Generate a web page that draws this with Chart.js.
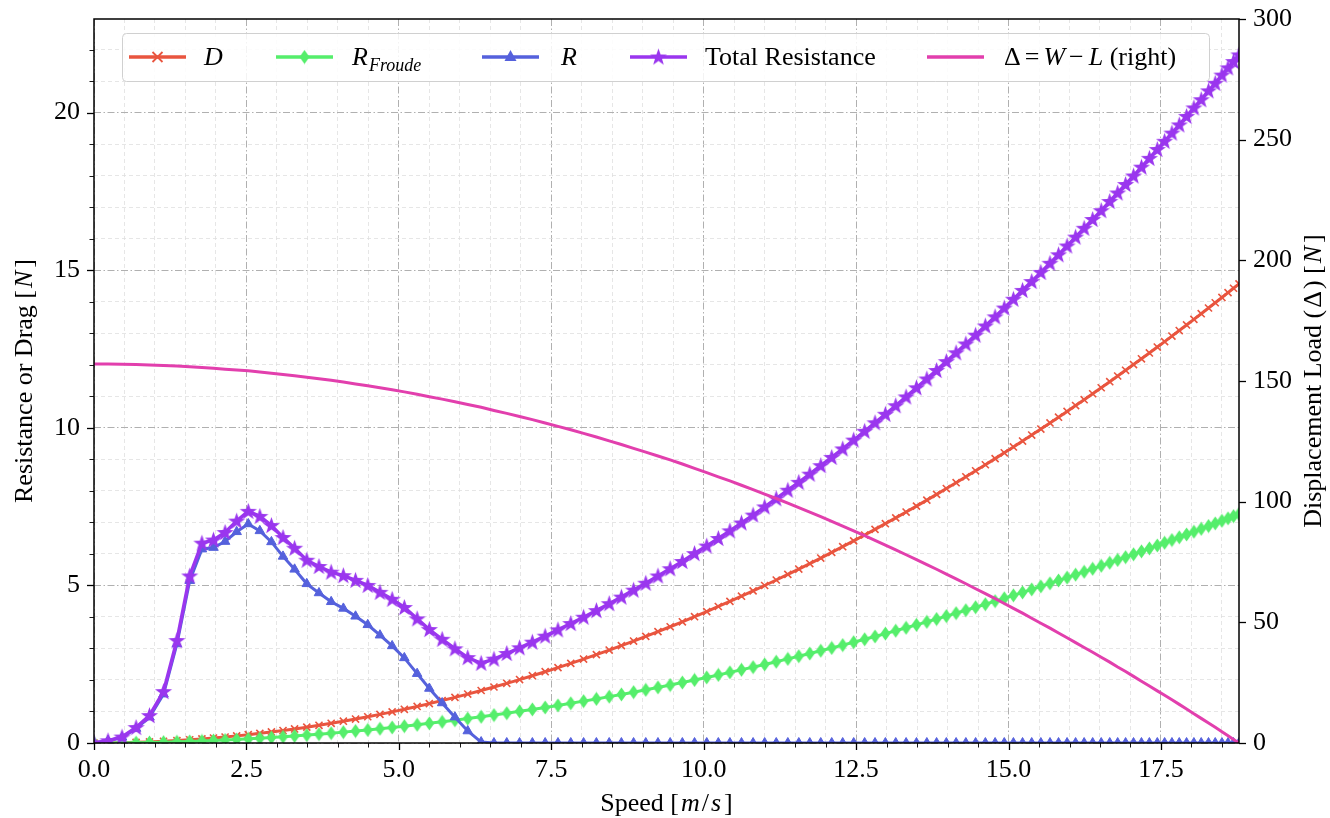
<!DOCTYPE html>
<html>
<head>
<meta charset="utf-8">
<script src="https://cdn.jsdelivr.net/npm/chart.js@4.4.1/dist/chart.umd.min.js"></script>
<style>
  html, body { margin: 0; padding: 0; background: #fff; }
  canvas { display: block; }
</style>
</head>
<body>
<canvas id="resistanceChart" width="1330" height="818"></canvas>
<script>
// speed [m/s] of every sample
var speed = [
  0.00, 0.23, 0.46, 0.69, 0.91, 1.14, 1.36, 1.57, 1.77, 1.96,
  2.15, 2.34, 2.53, 2.72, 2.91, 3.10, 3.29, 3.49, 3.69, 3.89,
  4.09, 4.29, 4.49, 4.69, 4.89, 5.09, 5.30, 5.50, 5.71, 5.92,
  6.13, 6.35, 6.56, 6.77, 6.98, 7.19, 7.40, 7.61, 7.82, 8.03,
  8.24, 8.45, 8.65, 8.85, 9.05, 9.25, 9.45, 9.65, 9.85, 10.05,
  10.24, 10.43, 10.62, 10.81, 11.00, 11.19, 11.38, 11.56, 11.74, 11.92,
  12.10, 12.28, 12.46, 12.64, 12.81, 12.98, 13.15, 13.32, 13.49, 13.66,
  13.82, 13.98, 14.14, 14.30, 14.46, 14.62, 14.78, 14.93, 15.08, 15.23,
  15.38, 15.53, 15.68, 15.82, 15.96, 16.10, 16.24, 16.38, 16.52, 16.66,
  16.79, 16.92, 17.05, 17.18, 17.31, 17.44, 17.56, 17.68, 17.80, 17.92,
  18.04, 18.16, 18.28, 18.39, 18.50, 18.60, 18.69, 18.78
];

// D
var drag = [
  0, 0.002, 0.009, 0.02, 0.034, 0.054, 0.076, 0.102, 0.129, 0.159,
  0.191, 0.226, 0.264, 0.306, 0.35, 0.397, 0.447, 0.503, 0.562, 0.625,
  0.691, 0.76, 0.833, 0.908, 0.988, 1.07, 1.16, 1.249, 1.347, 1.447,
  1.552, 1.665, 1.777, 1.893, 2.012, 2.135, 2.262, 2.392, 2.526, 2.663,
  2.804, 2.949, 3.09, 3.235, 3.383, 3.534, 3.688, 3.846, 4.007, 4.171,
  4.331, 4.493, 4.658, 4.826, 4.997, 5.171, 5.349, 5.519, 5.692, 5.868,
  6.047, 6.228, 6.412, 6.599, 6.777, 6.958, 7.142, 7.328, 7.516, 7.706,
  7.888, 8.072, 8.258, 8.445, 8.636, 8.828, 9.022, 9.206, 9.392, 9.58,
  9.769, 9.961, 10.154, 10.336, 10.52, 10.705, 10.892, 11.081, 11.271, 11.463,
  11.643, 11.824, 12.006, 12.19, 12.375, 12.562, 12.735, 12.91, 13.086, 13.263,
  13.441, 13.62, 13.801, 13.967, 14.135, 14.288, 14.427, 14.566
];

// R_Froude
var froude = [
  0, 0.001, 0.004, 0.01, 0.017, 0.027, 0.038, 0.051, 0.065, 0.079,
  0.095, 0.113, 0.132, 0.152, 0.174, 0.198, 0.223, 0.251, 0.28, 0.312,
  0.345, 0.379, 0.415, 0.453, 0.493, 0.534, 0.579, 0.623, 0.672, 0.722,
  0.774, 0.831, 0.886, 0.944, 1.004, 1.065, 1.128, 1.193, 1.26, 1.328,
  1.399, 1.471, 1.541, 1.613, 1.687, 1.763, 1.84, 1.918, 1.999, 2.081,
  2.16, 2.241, 2.323, 2.407, 2.493, 2.579, 2.668, 2.753, 2.839, 2.927,
  3.016, 3.106, 3.198, 3.291, 3.38, 3.471, 3.562, 3.655, 3.749, 3.844,
  3.934, 4.026, 4.119, 4.212, 4.307, 4.403, 4.5, 4.592, 4.685, 4.778,
  4.873, 4.968, 5.065, 5.156, 5.247, 5.34, 5.433, 5.527, 5.622, 5.718,
  5.807, 5.897, 5.988, 6.08, 6.173, 6.266, 6.352, 6.439, 6.527, 6.615,
  6.704, 6.794, 6.884, 6.967, 7.05, 7.127, 7.196, 7.265
];

// R
var wave = [
  0, 0.07, 0.18, 0.46, 0.82, 1.55, 3.14, 5.15, 6.15, 6.2,
  6.39, 6.7, 6.95, 6.73, 6.38, 5.92, 5.51, 5.05, 4.76, 4.48,
  4.27, 4.02, 3.75, 3.42, 3.08, 2.7, 2.2, 1.73, 1.27, 0.82,
  0.38, 0.03, 0, 0, 0, 0, 0, 0, 0, 0,
  0, 0, 0, 0, 0, 0, 0, 0, 0, 0,
  0, 0, 0, 0, 0, 0, 0, 0, 0, 0,
  0, 0, 0, 0, 0, 0, 0, 0, 0, 0,
  0, 0, 0, 0, 0, 0, 0, 0, 0, 0,
  0, 0, 0, 0, 0, 0, 0, 0, 0, 0,
  0, 0, 0, 0, 0, 0, 0, 0, 0, 0,
  0, 0, 0, 0, 0, 0, 0, 0
];

// Total Resistance
var total = [
  0, 0.07, 0.19, 0.49, 0.87, 1.63, 3.25, 5.3, 6.34, 6.44,
  6.68, 7.04, 7.35, 7.19, 6.9, 6.52, 6.18, 5.8, 5.6, 5.42,
  5.31, 5.16, 5, 4.78, 4.56, 4.3, 3.94, 3.6, 3.29, 2.99,
  2.71, 2.53, 2.66, 2.84, 3.02, 3.2, 3.39, 3.59, 3.79, 3.99,
  4.2, 4.42, 4.63, 4.85, 5.07, 5.3, 5.53, 5.76, 6.01, 6.25,
  6.49, 6.73, 6.98, 7.23, 7.49, 7.75, 8.02, 8.27, 8.53, 8.8,
  9.06, 9.33, 9.61, 9.89, 10.16, 10.43, 10.7, 10.98, 11.27, 11.55,
  11.82, 12.1, 12.38, 12.66, 12.94, 13.23, 13.52, 13.8, 14.08, 14.36,
  14.64, 14.93, 15.22, 15.49, 15.77, 16.05, 16.33, 16.61, 16.89, 17.18,
  17.45, 17.72, 17.99, 18.27, 18.55, 18.83, 19.09, 19.35, 19.61, 19.88,
  20.15, 20.41, 20.69, 20.93, 21.19, 21.42, 21.62, 21.83
];

// Δ = W - L, right axis
var displacement = [
  157, 157, 156.9, 156.8, 156.6, 156.4, 156.2, 155.9, 155.6, 155.3,
  154.9, 154.6, 154.2, 153.7, 153.2, 152.7, 152.2, 151.6, 150.9, 150.3,
  149.6, 148.8, 148, 147.2, 146.4, 145.5, 144.5, 143.5, 142.5, 141.4,
  140.3, 139.1, 137.8, 136.6, 135.3, 134, 132.6, 131.2, 129.8, 128.3,
  126.8, 125.2, 123.7, 122.1, 120.5, 118.9, 117.3, 115.6, 113.8, 112,
  110.3, 108.6, 106.8, 105, 103.1, 101.3, 99.4, 97.5, 95.7, 93.8,
  91.8, 89.9, 87.9, 85.9, 84, 82, 80, 78, 76, 73.9,
  72, 70, 68, 66, 63.9, 61.9, 59.8, 57.8, 55.8, 53.8,
  51.7, 49.6, 47.6, 45.6, 43.6, 41.6, 39.6, 37.6, 35.5, 33.5,
  31.5, 29.6, 27.6, 25.6, 23.6, 21.6, 19.8, 17.9, 16, 14.1,
  12.1, 10.2, 8.3, 6.5, 4.7, 3, 1.5, 0
];

var xMax = 18.78;
var yMax = 22.97;
var y2Max = 300;

var RED = '#e9553f';
var GREEN = '#55ee6b';
var BLUE = '#5561dc';
var PURPLE = '#9a36ee';
var MAGENTA = '#e23fad';
var MAJOR_GRID = '#b0b0b0';
var MINOR_GRID = '#e0e0e0';

var SERIF = '"Liberation Serif", "DejaVu Serif", serif';
var fNorm = '26px ' + SERIF;
var fItal = 'italic 26px ' + SERIF;
var fSub = 'italic 18px ' + SERIF;

function pts(xs, ys) {
  return xs.map(function (x, i) { return { x: x, y: ys[i] }; });
}

function onStep(v, step) {
  var r = v / step;
  return Math.abs(r - Math.round(r)) < 1e-6;
}

function markerCanvas(w, h, draw) {
  var c = document.createElement('canvas');
  c.width = w;
  c.height = h;
  draw(c.getContext('2d'));
  return c;
}

var starImg = markerCanvas(19, 19, function (g) {
  g.fillStyle = PURPLE;
  g.beginPath();
  for (var k = 0; k < 10; k++) {
    var r = k % 2 ? 3.6 : 9;
    var a = -Math.PI / 2 + k * Math.PI / 5;
    g.lineTo(9.5 + r * Math.cos(a), 10 + r * Math.sin(a));
  }
  g.closePath();
  g.fill();
});

var diamondImg = markerCanvas(11, 15, function (g) {
  g.fillStyle = GREEN;
  g.beginPath();
  g.moveTo(5.5, 0.5);
  g.lineTo(10.5, 7.5);
  g.lineTo(5.5, 14.5);
  g.lineTo(0.5, 7.5);
  g.closePath();
  g.fill();
});

function runsWidth(ctx, runs) {
  var w = 0;
  runs.forEach(function (r) { ctx.font = r.font; w += ctx.measureText(r.t).width + (r.gap || 0); });
  return w;
}

function drawRuns(ctx, runs, x, y) {
  ctx.textBaseline = 'alphabetic';
  ctx.textAlign = 'left';
  runs.forEach(function (r) {
    ctx.font = r.font;
    ctx.fillText(r.t, x, y + (r.dy || 0));
    x += ctx.measureText(r.t).width + (r.gap || 0);
  });
}

function drawTitle(ctx, runs, x, y, angle) {
  ctx.save();
  ctx.translate(x, y);
  ctx.rotate(angle);
  ctx.fillStyle = '#000';
  drawRuns(ctx, runs, -runsWidth(ctx, runs) / 2, 0);
  ctx.restore();
}

// legend entries; lx = start of the line sample, tx = start of the text
var legendItems = [
  { lx: 129, tx: 204, runs: [{ t: 'D', font: fItal }], color: RED, marker: 'cross' },
  { lx: 276, tx: 352, runs: [{ t: 'R', font: fItal, gap: 1 }, { t: 'Froude', font: fSub, dy: 6 }], color: GREEN, marker: diamondImg },
  { lx: 482, tx: 561, runs: [{ t: 'R', font: fItal }], color: BLUE, marker: 'triangle' },
  { lx: 630, tx: 705, runs: [{ t: 'Total Resistance', font: fNorm }], color: PURPLE, marker: starImg },
  { lx: 927, tx: 1004, runs: [{ t: 'Δ', font: fNorm, gap: 4 }, { t: '=', font: fNorm, gap: 4 }, { t: 'W', font: fItal, gap: 4 },
           { t: '−', font: fNorm, gap: 5 }, { t: 'L', font: fItal }, { t: ' (right)', font: fNorm }],
    color: MAGENTA, marker: null }
];

function drawLegend(ctx) {
  var left = 122, right = 1209, top = 33, h = 48, cy = 57, base = 65;

  ctx.save();
  ctx.beginPath();
  ctx.roundRect(left + 0.5, top + 0.5, right - left, h, 4);
  ctx.fillStyle = 'rgba(255,255,255,0.85)';
  ctx.fill();
  ctx.strokeStyle = '#d0d0d0';
  ctx.lineWidth = 1;
  ctx.stroke();

  legendItems.forEach(function (it) {
    var mx = it.lx + 28.5;
    ctx.strokeStyle = it.color;
    ctx.lineWidth = 3.5;
    ctx.beginPath();
    ctx.moveTo(it.lx, cy);
    ctx.lineTo(it.lx + 57, cy);
    ctx.stroke();
    if (it.marker === 'cross') {
      ctx.lineWidth = 1.8;
      ctx.beginPath();
      ctx.moveTo(mx - 5, cy - 5); ctx.lineTo(mx + 5, cy + 5);
      ctx.moveTo(mx + 5, cy - 5); ctx.lineTo(mx - 5, cy + 5);
      ctx.stroke();
    } else if (it.marker === 'triangle') {
      ctx.fillStyle = it.color;
      ctx.beginPath();
      ctx.moveTo(mx, cy - 7); ctx.lineTo(mx + 6, cy + 4); ctx.lineTo(mx - 6, cy + 4);
      ctx.closePath();
      ctx.fill();
    } else if (it.marker) {
      ctx.drawImage(it.marker, mx - it.marker.width / 2, cy - it.marker.height / 2);
    }
    ctx.fillStyle = '#000';
    drawRuns(ctx, it.runs, it.tx, base);
  });
  ctx.restore();
}

var framePlugin = {
  id: 'frame',
  afterDatasetsDraw: function (chart) {
    var ctx = chart.ctx, a = chart.chartArea, s = chart.scales;
    ctx.save();
    ctx.strokeStyle = '#000';

    // tick marks, pointing outward
    function tick(x1, y1, x2, y2, w) {
      ctx.lineWidth = w;
      ctx.beginPath();
      ctx.moveTo(x1, y1);
      ctx.lineTo(x2, y2);
      ctx.stroke();
    }
    s.x.ticks.forEach(function (t) {
      var px = Math.round(s.x.getPixelForValue(t.value)) + 0.5;
      var major = onStep(t.value, 2.5);
      tick(px, a.bottom, px, a.bottom + (major ? 7 : 4.5), major ? 1.3 : 0.9);
    });
    s.y.ticks.forEach(function (t) {
      var py = Math.round(s.y.getPixelForValue(t.value)) + 0.5;
      var major = onStep(t.value, 5);
      tick(a.left, py, a.left - (major ? 7 : 4.5), py, major ? 1.3 : 0.9);
    });
    s.y2.ticks.forEach(function (t) {
      var py = Math.round(s.y2.getPixelForValue(t.value)) + 0.5;
      tick(a.right, py, a.right + 7, py, 1.3);
    });

    // spines
    ctx.lineWidth = 1.5;
    ctx.strokeRect(a.left, a.top, a.right - a.left, a.bottom - a.top);
    ctx.restore();
  },
  afterDraw: function (chart) {
    var ctx = chart.ctx, a = chart.chartArea;
    var midY = (a.top + a.bottom) / 2;
    drawTitle(ctx, [{ t: 'Speed [', font: fNorm, gap: 2 }, { t: 'm', font: fItal, gap: 2 }, { t: '/', font: fNorm, gap: 2 },
                    { t: 's', font: fItal, gap: 3 }, { t: ']', font: fNorm }],
      (a.left + a.right) / 2, 811, 0);
    drawTitle(ctx, [{ t: 'Resistance or Drag [', font: fNorm, gap: 2 }, { t: 'N', font: fItal, gap: 3 }, { t: ']', font: fNorm }],
      32, midY, -Math.PI / 2);
    drawTitle(ctx, [{ t: 'Displacement Load (', font: fNorm, gap: 2 }, { t: 'Δ', font: fNorm, gap: 2 },
                    { t: ') [', font: fNorm, gap: 2 }, { t: 'N', font: fItal, gap: 3 }, { t: ']', font: fNorm }],
      1321, midY, -Math.PI / 2);
    drawLegend(ctx);
  }
};

function gridColor(step) {
  return function (c) { return c.tick && onStep(c.tick.value, step) ? MAJOR_GRID : MINOR_GRID; };
}
function gridDash(step) {
  return function (c) { return c.tick && onStep(c.tick.value, step) ? [7, 2.5, 1.5, 2.5] : [4, 3]; };
}
function gridWidth(step) {
  return function (c) { return c.tick && onStep(c.tick.value, step) ? 1 : 0.8; };
}

var tickFont = { family: SERIF, size: 26 };

var ctx = document.getElementById('resistanceChart');
var resistanceChart = new Chart(ctx, {
  type: 'line',
  data: {
    datasets: [
      {
        label: 'Δ = W − L (right)',
        data: pts(speed, displacement),
        yAxisID: 'y2',
        borderColor: MAGENTA,
        borderWidth: 3,
        pointRadius: 0,
        order: 0
      },
      {
        label: 'Total Resistance',
        data: pts(speed, total),
        yAxisID: 'y',
        borderColor: PURPLE,
        borderWidth: 3.5,
        pointStyle: starImg,
        pointRadius: 6,
        order: 1
      },
      {
        label: 'R',
        data: pts(speed, wave),
        yAxisID: 'y',
        borderColor: BLUE,
        backgroundColor: BLUE,
        borderWidth: 3,
        pointStyle: 'triangle',
        pointRadius: 5.5,
        pointBorderWidth: 1,
        order: 2
      },
      {
        label: 'R_Froude',
        data: pts(speed, froude),
        yAxisID: 'y',
        borderColor: GREEN,
        borderWidth: 3,
        pointStyle: diamondImg,
        pointRadius: 5,
        order: 3
      },
      {
        label: 'D',
        data: pts(speed, drag),
        yAxisID: 'y',
        borderColor: RED,
        backgroundColor: RED,
        borderWidth: 3,
        pointStyle: 'crossRot',
        pointRadius: 5,
        pointBorderWidth: 1.6,
        order: 4
      }
    ]
  },
  options: {
    responsive: false,
    animation: false,
    devicePixelRatio: 1,
    events: [],
    layout: { padding: { top: 19, left: 0, right: 0, bottom: 0 } },
    plugins: {
      legend: { display: false },
      tooltip: { enabled: false }
    },
    scales: {
      x: {
        type: 'linear',
        min: 0,
        max: xMax,
        afterFit: function (scale) { scale.height = 75; scale.paddingLeft = 0; scale.paddingRight = 0; },
        border: { display: false, dash: gridDash(2.5) },
        grid: { drawTicks: false, color: gridColor(2.5), lineWidth: gridWidth(2.5) },
        ticks: {
          stepSize: 0.5,
          includeBounds: false,
          autoSkip: false,
          maxRotation: 0,
          padding: 12,
          color: '#000',
          font: tickFont,
          callback: function (v) { return onStep(v, 2.5) ? v.toFixed(1) : ''; }
        }
      },
      y: {
        type: 'linear',
        position: 'left',
        min: 0,
        max: yMax,
        afterFit: function (scale) { scale.width = 94; scale.paddingTop = 0; scale.paddingBottom = 0; },
        border: { display: false, dash: gridDash(5) },
        grid: { drawTicks: false, color: gridColor(5), lineWidth: gridWidth(5) },
        ticks: {
          stepSize: 1,
          includeBounds: false,
          autoSkip: false,
          padding: 14,
          color: '#000',
          font: tickFont,
          callback: function (v) { return onStep(v, 5) ? String(Math.round(v)) : ''; }
        }
      },
      y2: {
        type: 'linear',
        position: 'right',
        min: 0,
        max: y2Max,
        afterFit: function (scale) { scale.width = 91; scale.paddingTop = 0; scale.paddingBottom = 0; },
        border: { display: false },
        grid: { drawOnChartArea: false, drawTicks: false },
        ticks: {
          stepSize: 50,
          autoSkip: false,
          padding: 14,
          color: '#000',
          font: tickFont
        }
      }
    }
  },
  plugins: [framePlugin]
});
</script>
</body>
</html>
